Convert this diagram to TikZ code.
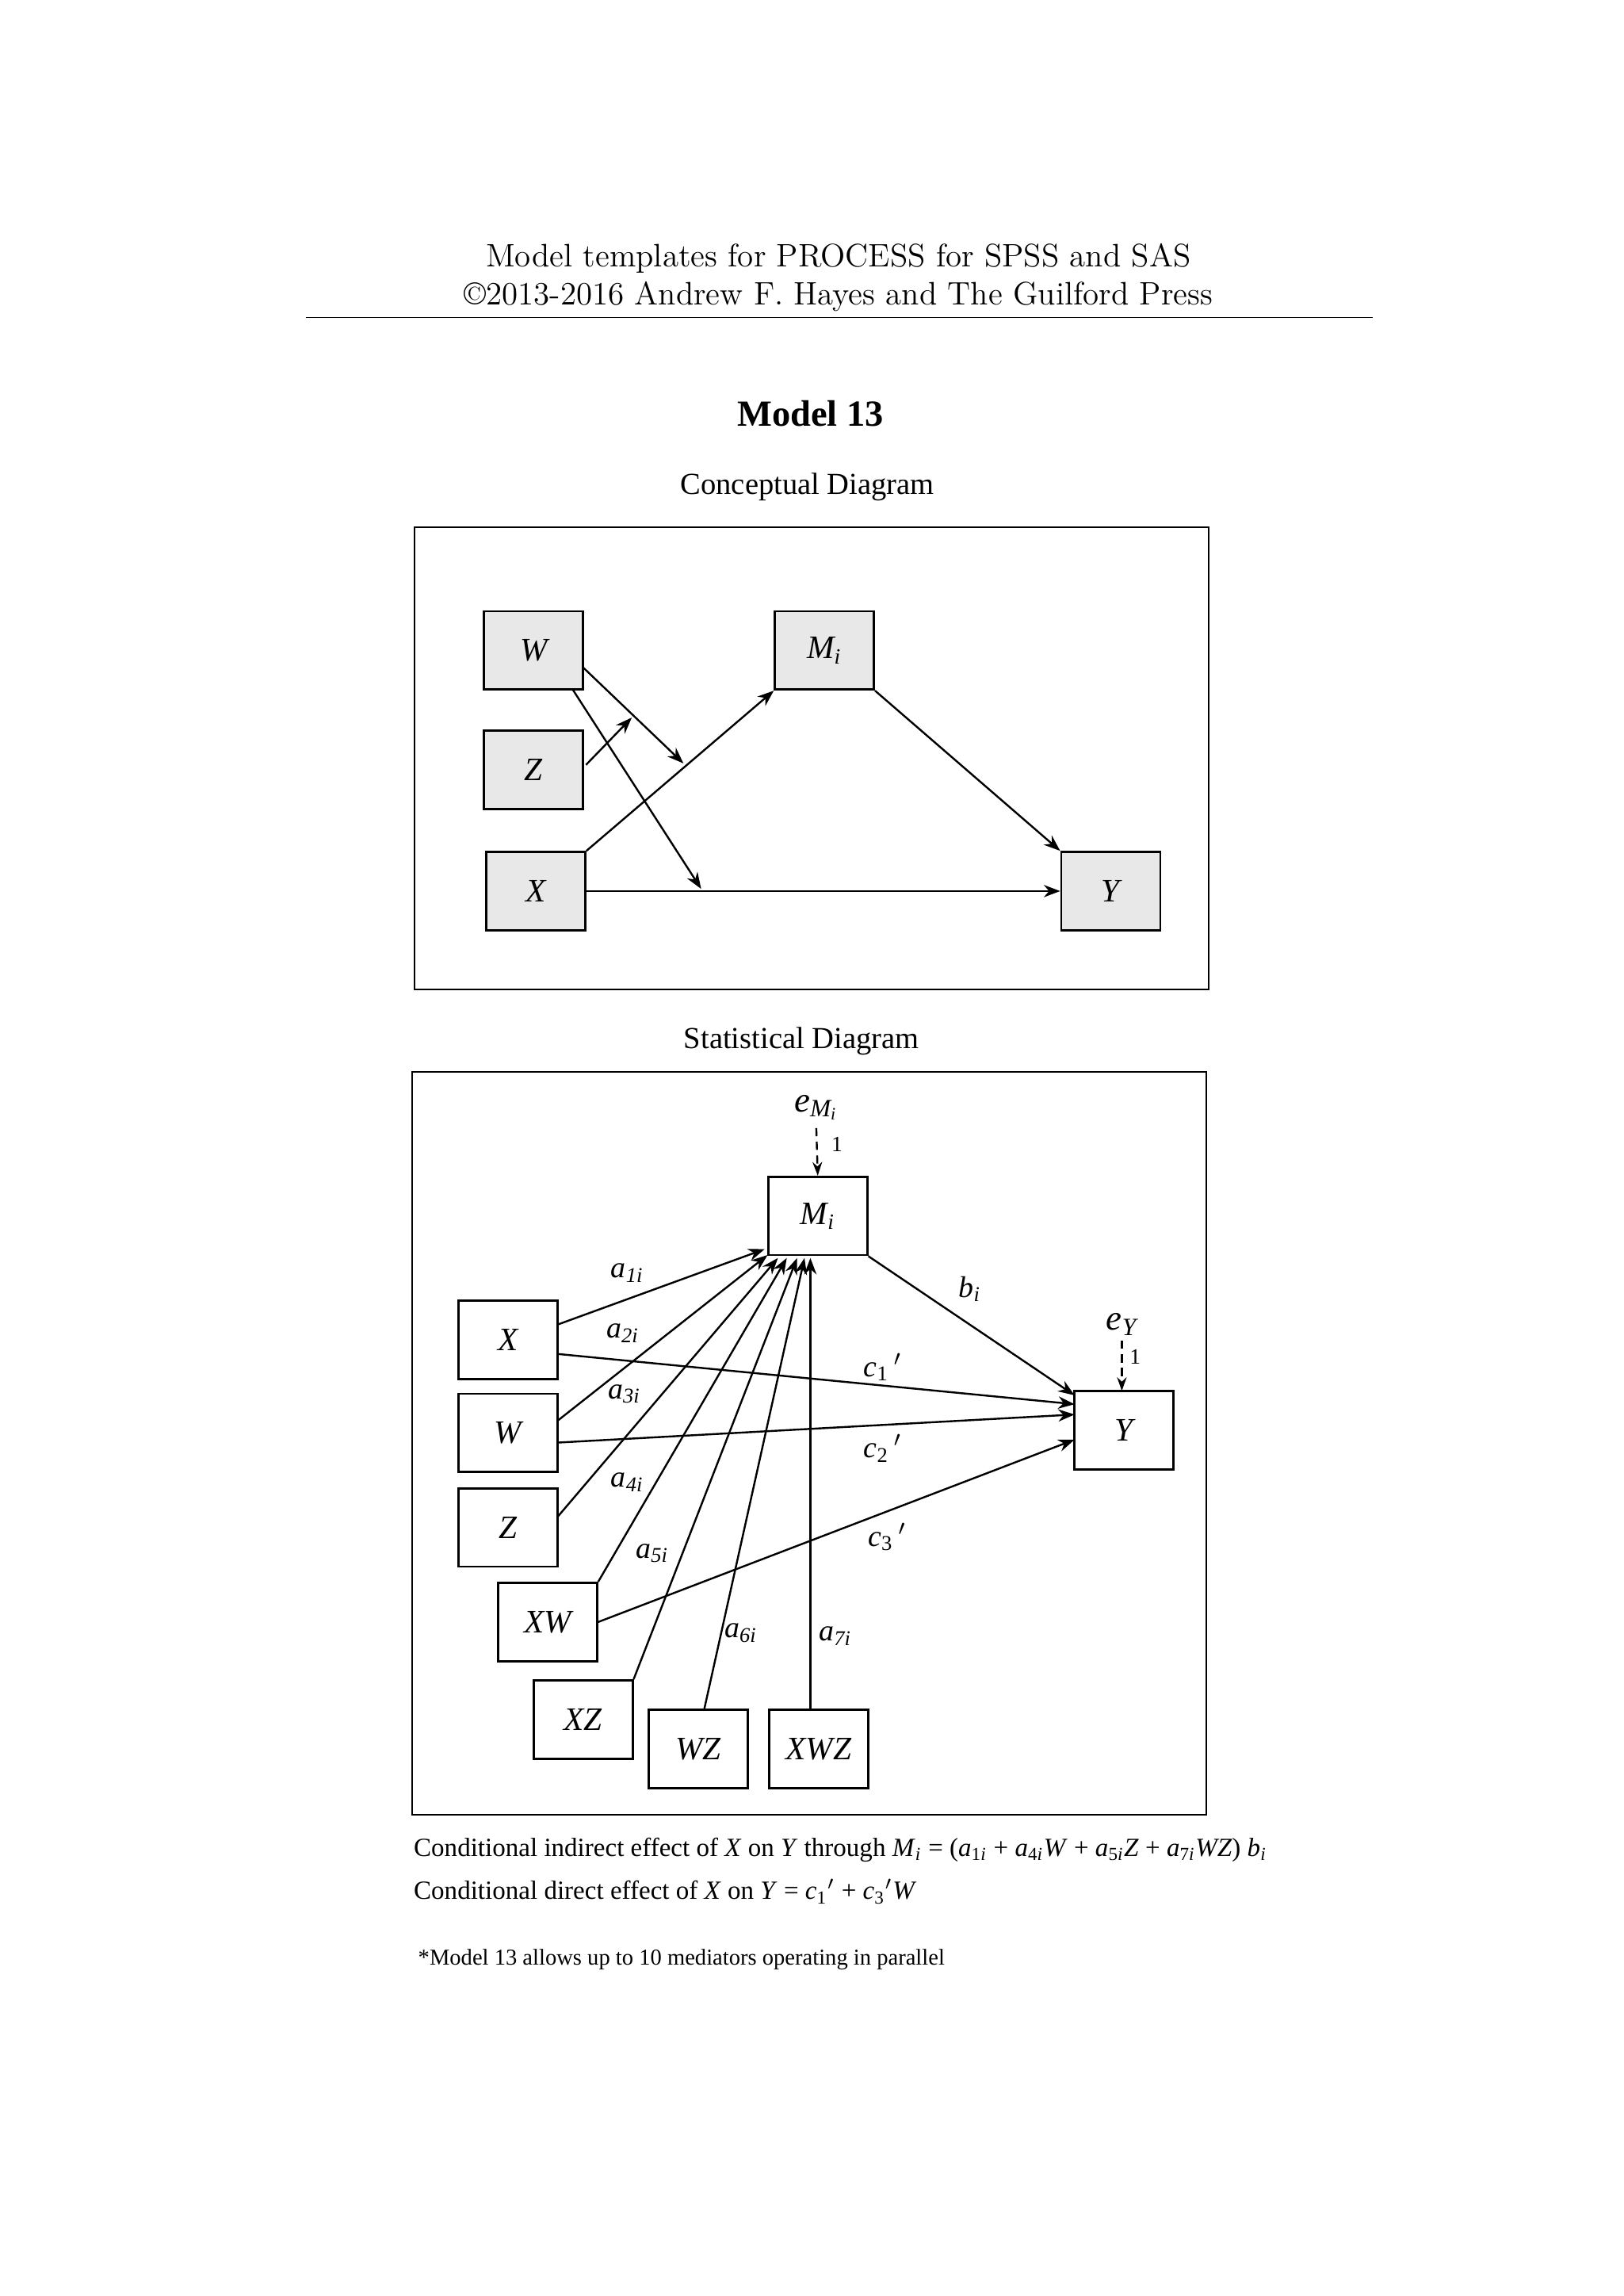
\documentclass[tikz,border=0pt]{standalone}
\usepackage{fontspec}
\setmainfont{Liberation Serif}
\newfontfamily\lmfont{Latin Modern Roman}
\usetikzlibrary{arrows.meta}
\newcommand\vi[1]{\textit{#1}}
\newcommand\sbi[1]{\textsubscript{#1}}
\begin{document}
\begin{tikzpicture}[x=0.541pt,y=-0.541pt,
  box/.style={draw,line width=0.8pt,minimum width=36.3pt,minimum height=28.7pt,inner sep=0pt,font=\fontsize{12}{14}\selectfont\itshape},
  cbox/.style={box,fill=gray!18},
  arr/.style={line width=0.7pt,-{Stealth[length=6pt,width=4.5pt]}},
  lab/.style={font=\fontsize{11}{13}\selectfont\itshape,inner sep=0pt},
  errarr/.style={line width=0.7pt,dash pattern=on 3pt off 2pt,-{Stealth[length=5pt,width=3.5pt]}}]
\useasboundingbox (0,0) rectangle (1100,1555);
% header
\node[font=\lmfont\fontsize{11.9}{14}\selectfont] (h1) at (568,175) {Model templates for PROCESS for SPSS and SAS};
\node[font=\lmfont\fontsize{11.9}{14}\selectfont] (h2) at (568,201) {\textcopyright2013-2016 Andrew F. Hayes and The Guilford Press};
\draw[line width=0.5pt] (207,215) -- (930,215);
\node[font=\fontsize{13.5}{16}\selectfont\bfseries] (t) at (549,280) {Model 13};
\node[font=\fontsize{11.2}{14}\selectfont] (cd) at (547,330) {Conceptual Diagram};
\draw[line width=0.6pt] (281,357) rectangle (819,670);
% conceptual
\node[cbox] (cW) at (361.5,440.5) {W};
\node[cbox] (cZ) at (361.5,521.5) {Z};
\node[cbox] (cX) at (363,603.5) {X};
\node[cbox] (cM) at (558.5,440.5) {M\sbi{i}};
\node[cbox] (cY) at (752.5,603.5) {Y};
\coordinate (p1) at (463,517);
\coordinate (p2) at (475,602);
\coordinate (p3) at (428,486);
\draw[arr] (cX.north east) -- (cM.south west);
\draw[arr] (cX.east) -- (cY.west);
\draw[arr] (cM.south east) -- (cY.north west);
\draw[arr] (395,452) -- (p1);
\draw[arr] (388,467) -- (p2);
\draw[arr] (397,518) -- (p3);
% statistical
\node[font=\fontsize{11.2}{14}\selectfont] (sd) at (543,705) {Statistical Diagram};
\draw[line width=0.6pt] (279,726) rectangle (817,1229);
\node[box] (M) at (554,823.5) {M\sbi{i}};
\node[box] (X) at (344,907.5) {X};
\node[box] (W) at (344,970.5) {W};
\node[box] (Z) at (344,1034.5) {Z};
\node[box] (XW) at (371,1098.5) {XW};
\node[box] (XZ) at (395,1164.5) {XZ};
\node[box] (WZ) at (473,1184.5) {WZ};
\node[box] (XWZ) at (554.5,1184.5) {XWZ};
\node[box] (Y) at (761.5,968.5) {Y};
\node[font=\fontsize{13}{15}\selectfont\itshape,inner sep=0pt] (eM) at (553,750) {e\sbi{M\sbi{i}}};
\node[font=\fontsize{13}{15}\selectfont\itshape,inner sep=0pt] (eY) at (760,897) {e\sbi{Y}};
\coordinate (eMe) at (553,764);
\coordinate (eYe) at (760,908);
\coordinate (Yt) at (760,942);
\draw[errarr] (eMe) -- (M.north);
\draw[errarr] (eYe) -- (Yt);
\node[font=\fontsize{8}{9}\selectfont] (o1) at (567,775) {1};
\node[font=\fontsize{8}{9}\selectfont] (o2) at (769,919) {1};
\coordinate (m1) at (518,846);
\coordinate (m2) at (520,850);
\coordinate (m3) at (527,852);
\coordinate (m4) at (533,852);
\coordinate (m5) at (540,852);
\coordinate (m6) at (545,852);
\coordinate (m7) at (549,852);
\draw[arr] (378,897) -- (m1);
\draw[arr] (378,962) -- (m2);
\draw[arr] (378,1027) -- (m3);
\draw[arr] (XW.north east) -- (m4);
\draw[arr] (XZ.north east) -- (m5);
\draw[arr] (477,1158) -- (m6);
\draw[arr] (549,1158) -- (m7);
\coordinate (y1) at (728,945);
\coordinate (y2) at (728,951);
\coordinate (y3) at (728,958);
\coordinate (y4) at (728,975);
\draw[arr] (M.south east) -- (y1);
\draw[arr] (378,917) -- (y2);
\draw[arr] (378,977) -- (y3);
\draw[arr] (XW.east) -- (y4);
\node[lab] (la1) at (425,862) {a\sbi{1\textit{i}}};
\node[lab] (la2) at (422,903) {a\sbi{2\textit{i}}};
\node[lab] (la3) at (423,944) {a\sbi{3\textit{i}}};
\node[lab] (la4) at (425,1004) {a\sbi{4\textit{i}}};
\node[lab] (la5) at (442,1052) {a\sbi{5\textit{i}}};
\node[lab] (la6) at (502,1106) {a\sbi{6\textit{i}}};
\node[lab] (la7) at (566,1108) {a\sbi{7\textit{i}}};
\node[lab] (lb) at (657,873) {b\sbi{i}};
\node[lab] (lc1) at (598,926) {c\sbi{\upshape 1}\,\upshape$'$};
\node[lab] (lc2) at (598,981) {c\sbi{\upshape 2}\,\upshape$'$};
\node[lab] (lc3) at (601,1041) {c\sbi{\upshape 3}\,\upshape$'$};
% bottom text
\node[anchor=west,inner sep=0pt,font=\fontsize{9.6}{12}\selectfont] (b1) at (280,1253) {Conditional indirect effect of \vi{X} on \vi{Y} through \vi{M}\sbi{\textit{i}} = (\vi{a}\sbi{1\textit{i}} + \vi{a}\sbi{4\textit{i}}\vi{W} + \vi{a}\sbi{5\textit{i}}\vi{Z} + \vi{a}\sbi{7\textit{i}}\vi{WZ}) \vi{b}\sbi{\textit{i}}};
\node[anchor=west,inner sep=0pt,font=\fontsize{9.6}{12}\selectfont] (b2) at (280,1281) {Conditional direct effect of \vi{X} on \vi{Y} = \vi{c}\sbi{1}$'$ + \vi{c}\sbi{3}$'$\vi{W}};
\node[anchor=west,inner sep=0pt,font=\fontsize{8.3}{10}\selectfont] (fn) at (283,1327) {*Model 13 allows up to 10 mediators operating in parallel};
\end{tikzpicture}
\end{document}
